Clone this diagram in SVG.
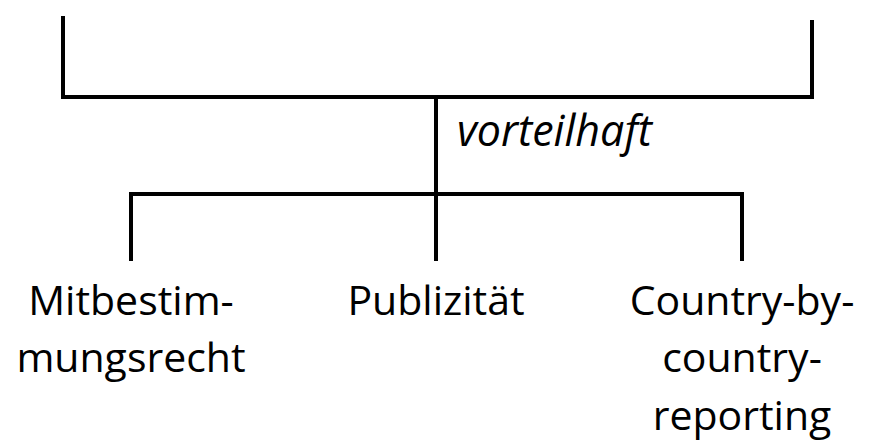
<svg xmlns="http://www.w3.org/2000/svg" width="874" height="440" viewBox="0 0 874 440">
<style>
.ln{fill:none;stroke:#000;stroke-width:4;stroke-linecap:square;stroke-linejoin:miter}
.t{font-family:"Open Sans","Noto Sans",sans-serif;font-size:41px;fill:#000;text-anchor:middle}
.e{font-style:italic;text-anchor:start;font-size:43px}
</style>
<rect width="874" height="440" fill="#fff"/>
<g id="connectors">
<polyline class="ln" points="63,18 63,97 812,97 812,22"/>
<line class="ln" x1="436" y1="97" x2="436" y2="259"/>
<polyline class="ln" points="131,259 131,194 742,194 742,259"/>
<text class="t e" x="457" y="146">vorteilhaft</text>
</g>
<g id="n1"><text class="t" x="131" y="315">Mitbestim-</text><text class="t" x="131" y="372">mungsrecht</text></g>
<g id="n2"><text class="t" x="436" y="315">Publizität</text></g>
<g id="n3"><text class="t" x="742" y="315">Country-by-</text><text class="t" x="742" y="372">country-</text><text class="t" x="742" y="430">reporting</text></g>
</svg>
